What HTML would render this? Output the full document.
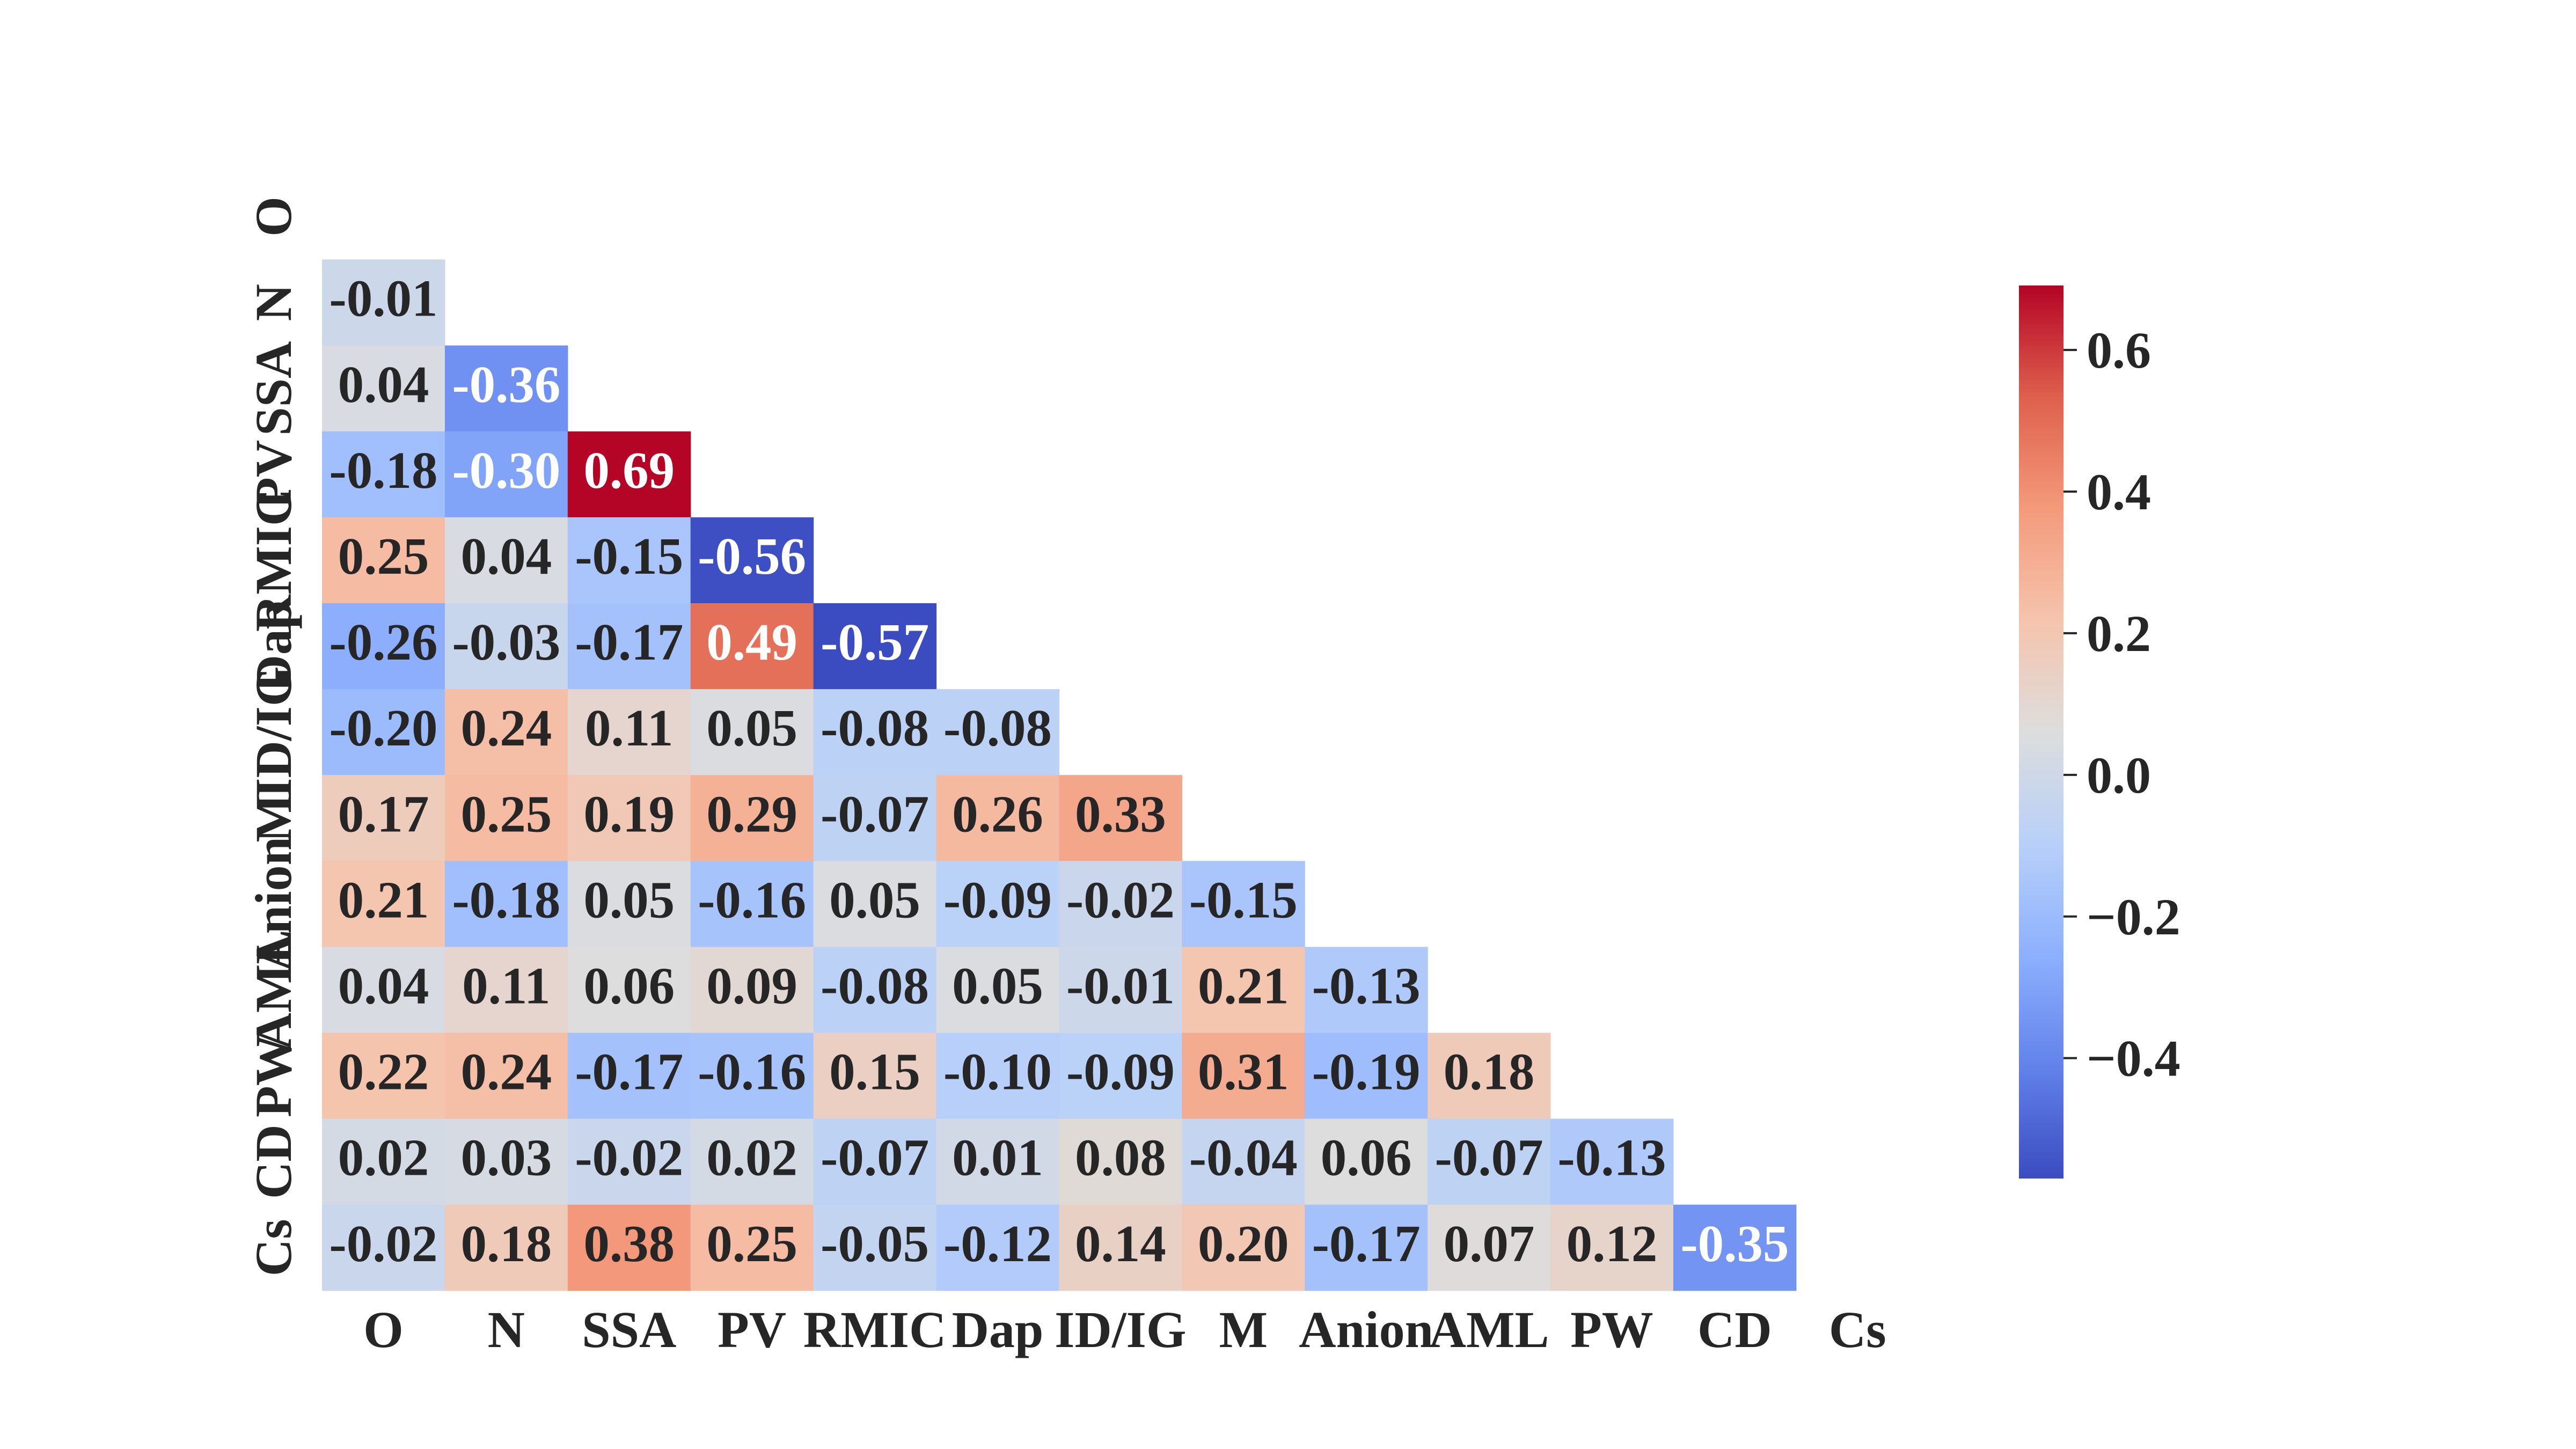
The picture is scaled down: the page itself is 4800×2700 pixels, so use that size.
<!DOCTYPE html>
<html><head><meta charset="utf-8"><style>
html,body{margin:0;padding:0;background:#fff;}
svg{display:block;}
text{font-family:"Liberation Serif",serif;font-weight:bold;}
</style></head><body>
<svg id="chart" width="4800" height="2700" viewBox="0 0 4800 2700" xmlns="http://www.w3.org/2000/svg">
<defs><linearGradient id="cbgrad" x1="0" y1="1" x2="0" y2="0"></linearGradient></defs>
<g id="cells"></g>
<g id="xlabels"></g>
<g id="ylabels"></g>
<g id="cbar"></g>
</svg>
<script>
const labels = ["O","N","SSA","PV","RMIC","Dap","ID/IG","M","Anion","AML","PW","CD","Cs"];
const rowN = [-0.01];
const rowSSA = [0.04,-0.36];
const rowPV = [-0.18,-0.30,0.69];
const rowRMIC = [0.25,0.04,-0.15,-0.56];
const rowDap = [-0.26,-0.03,-0.17,0.49,-0.57];
const rowIDIG = [-0.20,0.24,0.11,0.05,-0.08,-0.08];
const rowM = [0.17,0.25,0.19,0.29,-0.07,0.26,0.33];
const rowAnion = [0.21,-0.18,0.05,-0.16,0.05,-0.09,-0.02,-0.15];
const rowAML = [0.04,0.11,0.06,0.09,-0.08,0.05,-0.01,0.21,-0.13];
const rowPW = [0.22,0.24,-0.17,-0.16,0.15,-0.10,-0.09,0.31,-0.19,0.18];
const rowCD = [0.02,0.03,-0.02,0.02,-0.07,0.01,0.08,-0.04,0.06,-0.07,-0.13];
const rowCs = [-0.02,0.18,0.38,0.25,-0.05,-0.12,0.14,0.20,-0.17,0.07,0.12,-0.35];
const rows = [[],rowN,rowSSA,rowPV,rowRMIC,rowDap,rowIDIG,rowM,rowAnion,rowAML,rowPW,rowCD,rowCs];
const vmin = -0.57, vmax = 0.691;
const cbTicks = [0.6,0.4,0.2,0.0,-0.2,-0.4];

const NS="http://www.w3.org/2000/svg";
const X0=600, Y0=323.5, CW=228.9, CH=160.1;
const cmap=[[59,76,192],[98,130,234],[141,176,254],[184,208,249],[221,221,221],[245,196,173],[244,154,123],[222,96,77],[180,4,38]];
function color(v){
  let t=(v-vmin)/(vmax-vmin); t=Math.max(0,Math.min(1,t));
  const p=t*8, i=Math.min(7,Math.floor(p)), f=p-i;
  const a=cmap[i], b=cmap[i+1];
  return `rgb(${Math.round(a[0]+(b[0]-a[0])*f)},${Math.round(a[1]+(b[1]-a[1])*f)},${Math.round(a[2]+(b[2]-a[2])*f)})`;
}
function xPos(j){return X0+j*CW;}
function yPos(i){return Y0+i*CH;}
function mk(tag,attrs,parent){const e=document.createElementNS(NS,tag);for(const k in attrs)e.setAttribute(k,attrs[k]);parent.appendChild(e);return e;}
const gc=document.getElementById('cells');
rows.forEach((r,i)=>{
  r.forEach((v,j)=>{
    const rect=mk('rect',{x:xPos(j),y:yPos(i),width:CW+0.6,height:CH+0.6,fill:color(v)},gc);
    
    
    const t=mk('text',{x:xPos(j)+CW/2,y:yPos(i)+CH/2+25,'text-anchor':'middle','font-size':97,fill:(v<=-0.3||v>=0.45)?'#ffffff':'#262626'},gc);
    t.textContent=v.toFixed(2);
    
    
  });
});
const gx=document.getElementById('xlabels'), gy=document.getElementById('ylabels');
labels.forEach((l,k)=>{
  const t=mk('text',{x:xPos(k)+CW/2,y:2510,'text-anchor':'middle','font-size':96,fill:'#262626'},gx);
  t.textContent=l;
  
  
  const cy=yPos(k)+CH/2, cx=542;
  const u=mk('text',{x:cx,y:cy,'text-anchor':'middle','font-size':96,fill:'#262626',transform:`rotate(-90 ${cx} ${cy})`},gy);
  u.textContent=l;
  
  
});
const CBX=3762, CBW=83, CBT=532, CBB=2196;
function cbY(v){return CBB-(v-vmin)/(vmax-vmin)*(CBB-CBT);}
const grad=document.getElementById('cbgrad');
for(let s=0;s<=8;s++){mk('stop',{offset:(s/8),'stop-color':`rgb(${cmap[s].join(',')})`},grad);}
const gb=document.getElementById('cbar');
const cr=mk('rect',{x:CBX,y:CBT,width:CBW,height:CBB-CBT,fill:'url(#cbgrad)'},gb);


cbTicks.forEach(v=>{
  const y=cbY(v);
  const ln=mk('line',{x1:CBX+CBW,x2:CBX+CBW+25,y1:y,y2:y,stroke:'#262626','stroke-width':4},gb);
  
  
  const t=mk('text',{x:CBX+CBW+43,y:y+33,'font-size':96,fill:'#262626'},gb);
  t.textContent=(v<0?'\u2212':'')+Math.abs(v).toFixed(1);
  
  
});
</script>
</body></html>
